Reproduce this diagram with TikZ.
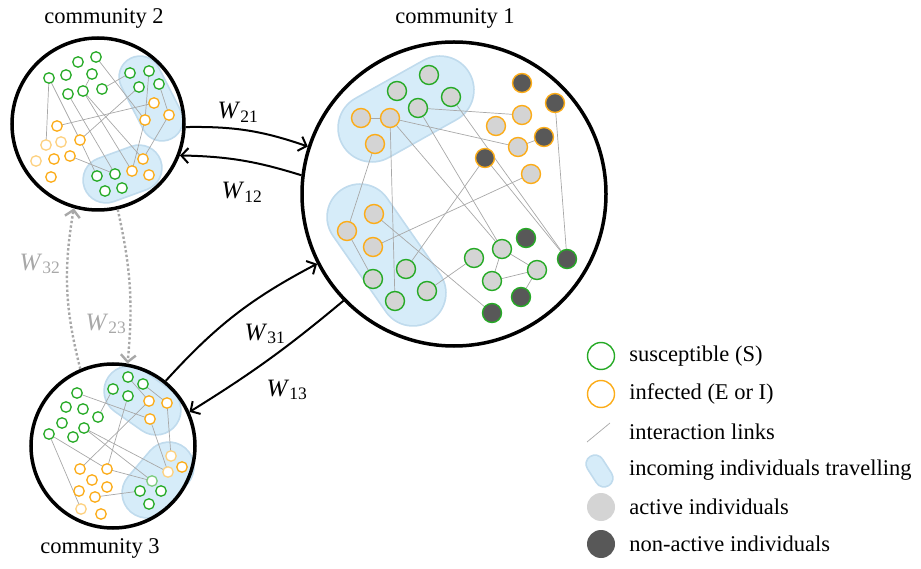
\documentclass[tikz,border=0pt]{standalone}
\usepackage{fontspec}
\usepackage{amsmath}
\setmainfont{Liberation Serif}
\usetikzlibrary{positioning,arrows.meta}

\definecolor{sgreen}{RGB}{38,170,38}
\definecolor{iorange}{RGB}{252,172,24}
\definecolor{actgray}{RGB}{212,212,212}
\definecolor{nagray}{RGB}{88,88,88}
\definecolor{linkgray}{RGB}{168,168,168}
\definecolor{blobfill}{RGB}{214,236,249}
\definecolor{blobedge}{RGB}{192,219,237}
\definecolor{flowgray}{RGB}{168,168,168}

\tikzset{
  comm/.style={circle, draw, line width=3.5pt, minimum size=#1, inner sep=0pt},
  big/.style={circle, inner sep=0pt, minimum size=19pt, line width=1.4pt},
  aS/.style={big, draw=sgreen, fill=actgray},
  aI/.style={big, draw=iorange, fill=actgray},
  nS/.style={big, draw=sgreen, fill=nagray},
  nI/.style={big, draw=iorange, fill=nagray},
  small/.style={circle, inner sep=0pt, minimum size=10.5pt, line width=1.3pt, fill=white},
  sS/.style={small, draw=sgreen},
  sI/.style={small, draw=iorange},
  sSp/.style={small, draw=sgreen!60},
  sIp/.style={small, draw=iorange!55},
  link/.style={linkgray, line width=0.7pt},
  flow/.style={line width=2pt, -{Straight Barb[length=7pt,width=15pt]}},
  flowg/.style={flow, flowgray, line width=2.4pt, dash pattern=on 2.4pt off 2.2pt},
  wlabel/.style={inner sep=0pt, font=\fontsize{25}{30}\selectfont},
  lgtext/.style={inner sep=0pt, anchor=west},
}

\newcommand{\wlab}[1]{\textit{W}$_{\text{#1}}$}

% individuals: name/x/y/style
\newcommand{\people}{%
  i1/429/75/aS, i2/397/91/aS, i3/451/97/aS, i4/418/108/aS,
  i5/361/118/aI, i6/390/118/aI, i7/375/144/aI,
  i8/374/214/aI, i9/347/231/aI, i10/373/247/aI,
  i11/406/269/aS, i12/373/279/aS, i13/427/291/aS, i14/395/301/aS,
  i15/522/83/nI, i16/555/103/nI, i17/544/137/nI, i18/485/158/nI,
  i19/522/115/aI, i20/496/126/aI, i21/518/147/aI, i22/531/174/aI,
  i23/526/238/nS, i24/567/259/nS, i25/521/297/nS, i26/492/313/nS,
  i27/474/258/aS, i28/502/249/aS, i29/537/270/aS, i30/492/281/aS,
  j1/96/57/sS, j2/78/62/sS, j3/49/78/sS, j4/66/75/sS, j5/92/74/sS,
  j6/68/94/sS, j7/83/91/sS, j8/102/89/sS,
  j9/130/73/sS, j10/149/71/sS, j11/139/87/sS, j12/159/84/sS,
  j13/154/103/sI, j14/145/120/sI, j15/169/115/sI,
  j16/57/126/sI, j17/80/140/sI, j18/61/142/sIp, j19/46/145/sIp,
  j20/36/161/sIp, j21/54/159/sI, j22/70/156/sI, j23/51/177/sI,
  j24/143/159/sI, j25/132/171/sI, j26/149/175/sI,
  j27/97/176/sS, j28/115/174/sS, j29/105/191/sS, j30/122/188/sS,
  k1/128/377/sS, k2/113/389/sS, k3/143/384/sS, k4/128/396/sS,
  k5/149/401/sI, k6/167/403/sI, k7/150/419/sI,
  k8/77/393/sS, k9/66/407/sS, k10/83/409/sS, k11/98/417/sS,
  k12/62/423/sS, k13/84/428/sS, k14/73/437/sS, k15/49/434/sS,
  k16/80/469/sI, k17/107/469/sI, k18/92/480/sI, k19/107/487/sI,
  k20/79/491/sI, k21/95/497/sI, k22/81/509/sIp, k23/101/514/sI,
  k24/171/456/sIp, k25/182/467/sI, k26/168/472/sIp,
  k27/152/481/sSp, k28/140/491/sS, k29/161/491/sS, k30/149/504/sS}

\newcommand{\contacts}{%
  i4/i19, i6/i21, i21/i17, i6/i14, i6/i28, i4/i28, i3/i24, i18/i24,
  i16/i24, i7/i9, i9/i12, i8/i26, i10/i22, i11/i18, i13/i27,
  i28/i29, i30/i29, i29/i25, i28/i30, i5/i6,
  j3/j19, j3/j17, j1/j14, j5/j7, j7/j25, j7/j24, j6/j28, j8/j9,
  j16/j13, j17/j11, j10/j14, j12/j15, j15/j24, j14/j25, j22/j28, j17/j27,
  k8/k7, k11/k2, k4/k17, k5/k16, k15/k22, k15/k17, k13/k26, k13/k27,
  k21/k28, k17/k27, k7/k26, k6/k24, k3/k6, k1/k5}

\begin{document}
\begin{tikzpicture}[x=1pt, y=-1pt, font=\fontsize{22.5}{27}\selectfont]
\useasboundingbox (0,0) rectangle (921,569);

% travelling groups
\foreach \ax/\ay/\bx/\by/\rad in {372/128/440/90/33, 360/217/413/293/32,
    140/77/162/120/20, 106/180/139/168/22,
    129/391/156/410/24, 147/493/169/467/24, 595/464/604/478/8}{
  \draw[blobedge, line cap=round, line width=2*\rad pt+3.5pt] (\ax,\ay) -- (\bx,\by);
  \draw[blobfill, line cap=round, line width=2*\rad pt] (\ax,\ay) -- (\bx,\by);
}

\foreach \n/\x/\y/\s in \people
  \coordinate (\n) at (\x,\y);
\foreach \p/\q in \contacts
  \draw[link] (\p) -- (\q);
\foreach \n/\x/\y/\s in \people
  \node[\s] at (\n) {};

\node[comm=304pt] (com1) at (454,194) {};
\node[comm=172pt] (com2) at (98,124) {};
\node[comm=164pt] (com3) at (113,446) {};

\node (lab1) at (455,18) {community 1};
\node (lab2) at (104,18) {community 2};
\node (lab3) at (100,548) {community 3};

\draw[flow] (com2.-2) to[bend left=10] (com1.162);
\draw[flow] (com1.173) to[bend right=8] (com2.-21);
\draw[flow] (com3.51) to[bend left=10] (com1.207);
\draw[flow] (com1.224) to[bend left=4] (com3.24);
\draw[flowg] (com3.113) to[bend left=12] (com2.254);
\draw[flowg] (com2.-77) to[bend left=9] (com3.80);

\node[wlabel] (w21) at (238,112) {\wlab{21}};
\node[wlabel] (w12) at (242,192) {\wlab{12}};
\node[wlabel, text=flowgray] (w32) at (40,264) {\wlab{32}};
\node[wlabel, text=flowgray] (w23) at (106,324) {\wlab{23}};
\node[wlabel] (w31) at (265,334) {\wlab{31}};
\node[wlabel] (w13) at (287,390) {\wlab{13}};

% legend
\node[circle, draw=sgreen, line width=1.4pt, minimum size=27pt, inner sep=0pt] (lgs) at (601,356) {};
\node[lgtext, right=14pt of lgs] (ts) {susceptible (S)};
\node[circle, draw=iorange, line width=1.4pt, minimum size=27pt, inner sep=0pt] (lgi) at (601,394) {};
\node[lgtext, right=14pt of lgi] (ti) {infected (E or I)};
\coordinate (lk1) at (587,442);
\coordinate (lk2) at (610,423);
\draw[link] (lk1) -- (lk2);
\node[lgtext] (tl) at (629,432) {interaction links};
\node[lgtext] (tb) at (629,470) {incoming individuals travelling};
\node[circle, fill=actgray, minimum size=28pt, inner sep=0pt] (lga) at (601,507) {};
\node[lgtext, right=14pt of lga] (ta) {active individuals};
\node[circle, fill=nagray, minimum size=28pt, inner sep=0pt] (lgn) at (601,544) {};
\node[lgtext, right=14pt of lgn] (tn) {non-active individuals};
\end{tikzpicture}
\end{document}
